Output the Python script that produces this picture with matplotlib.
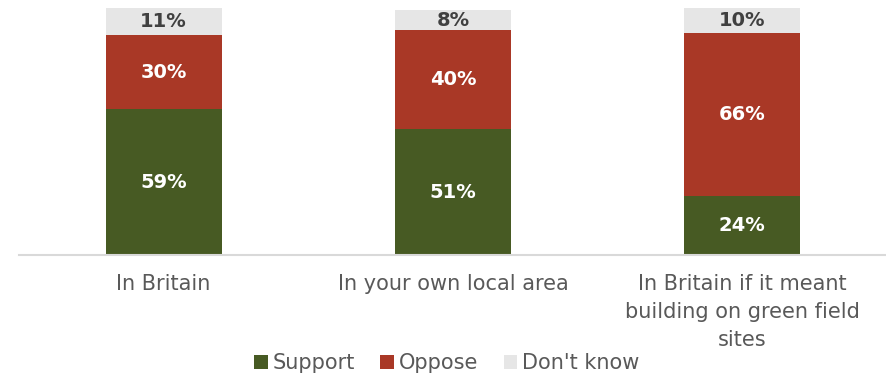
import matplotlib
matplotlib.use("Agg")
import matplotlib.pyplot as plt
from matplotlib.patches import Patch

categories = ["In Britain", "In your own local area",
              "In Britain if it meant\nbuilding on green field\nsites"]
support = [59, 51, 24]
oppose = [30, 40, 66]
dont_know = [11, 8, 10]
series_names = ["Support", "Oppose", "Don't know"]

colors = ["#475A23", "#A93826", "#E6E6E6"]
label_colors = ["white", "white", "#404040"]

plt.rcParams['font.family'] = ['DejaVu Sans']

fig = plt.figure(figsize=(8.87, 3.77), dpi=100)
ax = fig.add_axes([19/887, 1 - 255/377, 868/887, 247/377])

x = range(len(categories))
bottoms = [0, 0, 0]
for vals, col, lc in zip([support, oppose, dont_know], colors, label_colors):
    bars = ax.bar(x, vals, width=0.4, bottom=bottoms, color=col, edgecolor="none")
    for b, v, bt in zip(bars, vals, bottoms):
        ax.text(b.get_x() + b.get_width() / 2, bt + v / 2, f"{v}%",
                ha="center", va="center", color=lc, fontsize=14,
                fontweight="bold")
    bottoms = [a + b for a, b in zip(bottoms, vals)]

ax.set_xlim(-0.5, 2.5)
ax.set_ylim(0, 100)
ax.set_yticks([])
ax.set_xticks(list(x))
ax.set_xticklabels(categories, fontsize=15, color="#595959", linespacing=1.5)
ax.tick_params(axis="x", length=0, pad=14)
for side in ["top", "right", "left"]:
    ax.spines[side].set_visible(False)
ax.spines["bottom"].set_color("#D9D9D9")
ax.spines["bottom"].set_linewidth(1.5)

handles = [Patch(facecolor=c, edgecolor="none") for c in colors]
fig.legend(handles, series_names, loc="center", bbox_to_anchor=(447/887, 1 - 363/377),
           ncol=3, frameon=False, fontsize=15, handlelength=0.65, handleheight=0.65,
           handletextpad=0.25, columnspacing=1.2, labelcolor="#595959")

fig.savefig("out.png", dpi=100)
